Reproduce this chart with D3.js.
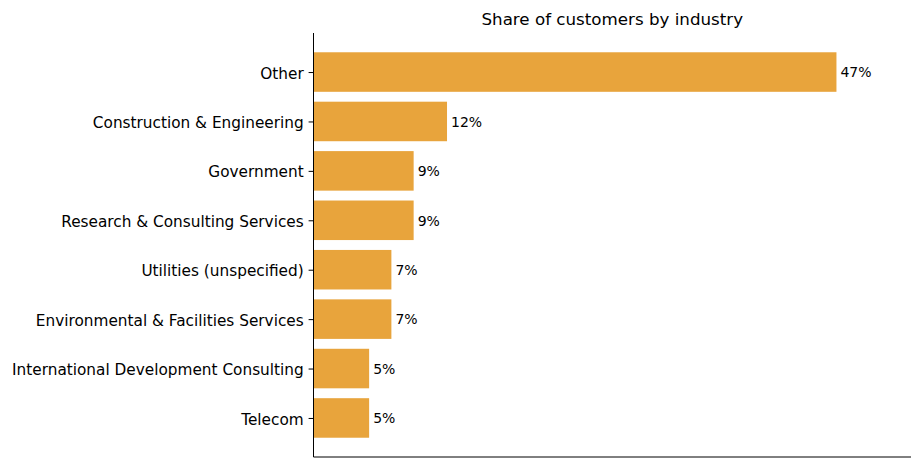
<!DOCTYPE html>
<html><head><meta charset="utf-8">
<script src="https://cdn.jsdelivr.net/npm/d3@7"></script>
<style>body{margin:0;background:#fff}svg{display:block}text{font-family:"DejaVu Sans",sans-serif}</style>
</head><body>
<script>
const categories = ["Other","Construction & Engineering","Government","Research & Consulting Services","Utilities (unspecified)","Environmental & Facilities Services","International Development Consulting","Telecom"];
const values = [47,12,9,9,7,7,5,5];
const valueLabels = ["47%","12%","9%","9%","7%","7%","5%","5%"];
const title = "Share of customers by industry";

const W=921,H=468, L=313.5, R=911, T=33, B=457;
const svg=d3.select("body").append("svg").attr("width",W).attr("height",H);
const x=d3.scaleLinear().domain([0,53.7]).range([L,R]);
const n=categories.length;
const y=d3.scaleLinear().domain([-0.79,n-1+0.79]).range([T,B]);
const bh=(y(0.4)-y(-0.4));
svg.append("g").selectAll("rect").data(values).join("rect")
  .attr("x",x(0)).attr("y",(d,i)=>y(i-0.4)).attr("width",d=>x(d)-x(0)).attr("height",bh)
  .attr("fill","#E8A43C");
svg.append("g").selectAll("text").data(values).join("text")
  .attr("x",d=>x(d)+4).attr("y",(d,i)=>y(i)).attr("dy","0.38em")
  .attr("font-size",14).attr("fill","#000").text((d,i)=>valueLabels[i]);
const ya=d3.axisLeft(d3.scalePoint().domain(categories).range([y(0),y(n-1)])).tickSize(4.9).tickPadding(4.9);
const g=svg.append("g").attr("transform",`translate(${L},0)`).call(ya);
g.select(".domain").remove();
g.selectAll("text").attr("font-size",15.3).attr("dy","0.4em").attr("fill","#000").style("font-family","DejaVu Sans");
g.selectAll("line").attr("stroke","#000");
svg.append("line").attr("x1",L).attr("x2",L).attr("y1",T).attr("y2",B).attr("stroke","#000");
svg.append("line").attr("x1",L).attr("x2",R).attr("y1",B).attr("y2",B).attr("stroke","#000");
svg.append("text").attr("x",(L+R)/2).attr("y",T-8).attr("text-anchor","middle").attr("font-size",16.7).text(title);
</script>
</body></html>
